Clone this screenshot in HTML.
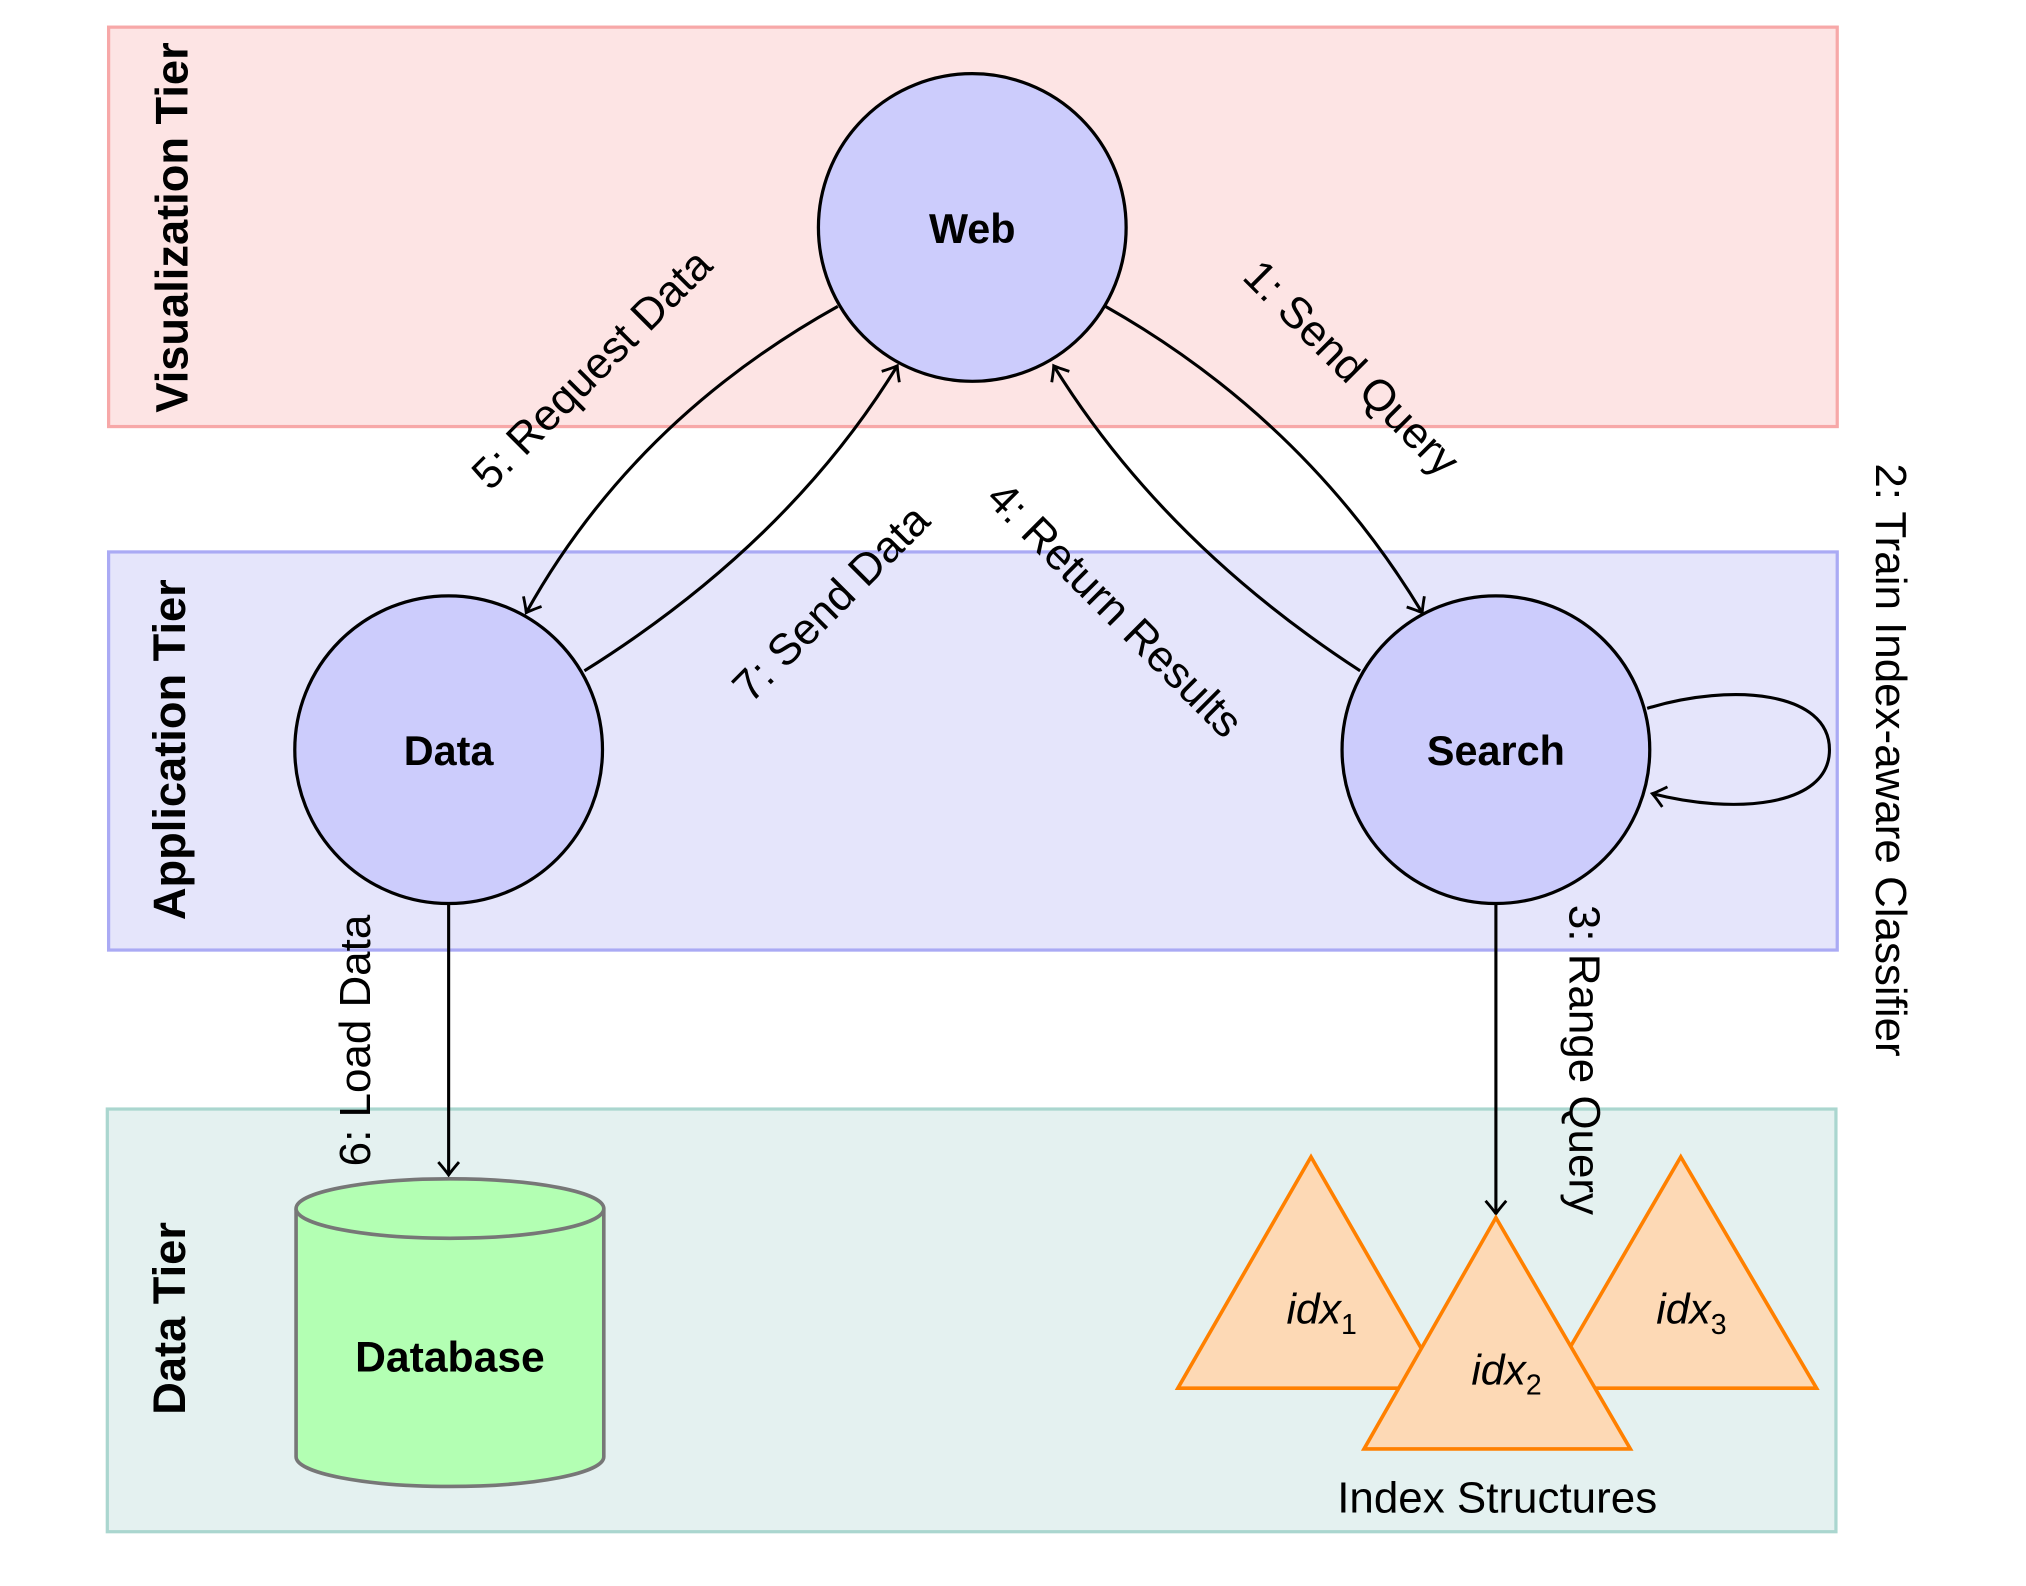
<!DOCTYPE html>
<html><head><meta charset="utf-8"><style>
html,body{margin:0;padding:0;background:#fff;}
svg{display:block;}
text{font-family:"Liberation Sans","DejaVu Sans",sans-serif;}
</style></head><body>
<svg width="2026" height="1586" viewBox="0 0 1567 1227" preserveAspectRatio="none" xmlns="http://www.w3.org/2000/svg">
<defs>
<marker id="ar" viewBox="-12 -10 14 20" markerWidth="14" markerHeight="20" refX="0" refY="0" orient="auto" markerUnits="userSpaceOnUse">
<path d="M-10,-8 Q-3,-2 0,0 Q-3,2 -10,8" fill="none" stroke="#000" stroke-width="2.2"/>
</marker>
</defs>
<rect x="84" y="21" width="1337" height="309" fill="#fde4e4" stroke="#f7a8a8" stroke-width="2.5"/>
<rect x="84" y="427" width="1337" height="308" fill="#e5e5fb" stroke="#aaaaf4" stroke-width="2.5"/>
<rect x="83" y="858" width="1337" height="327" fill="#e4f1f0" stroke="#aad6cf" stroke-width="2.5"/>

<g font-weight="bold" font-size="35" fill="#000">
<text transform="translate(145,176) rotate(-90)" text-anchor="middle">Visualization Tier</text>
<text transform="translate(143,580) rotate(-90)" text-anchor="middle">Application Tier</text>
<text transform="translate(143,1020) rotate(-90)" text-anchor="middle">Data Tier</text>
</g>

<g fill="none" stroke="#000" stroke-width="2.4">
<path d="M855,237 Q1010,325 1100,474" marker-end="url(#ar)"/>
<path d="M1052,519 Q900,420 815,283" marker-end="url(#ar)"/>
<path d="M648,237 Q490,325 407,474" marker-end="url(#ar)"/>
<path d="M452,519 Q610,420 694,283" marker-end="url(#ar)"/>
<path d="M347,699 L347,909" marker-end="url(#ar)"/>
<path d="M1157,699 L1157,939" marker-end="url(#ar)"/>
<path d="M1274,548 C1340,528 1415,535 1415,580 C1415,625 1340,630 1278,614" marker-end="url(#ar)"/>
</g>

<g fill="#ccccfc" stroke="#000" stroke-width="2.5">
<circle cx="752" cy="176" r="119"/>
<circle cx="347" cy="580" r="119"/>
<circle cx="1157" cy="580" r="119"/>
</g>
<g font-weight="bold" font-size="32" text-anchor="middle" fill="#000">
<text x="752" y="188">Web</text>
<text x="347" y="592">Data</text>
<text x="1157" y="592">Search</text>
</g>

<g stroke="#777" stroke-width="2.8" fill="#b3ffb3">
<path d="M229,935 L229,1127 A119,23 0 0 0 467,1127 L467,935"/>
<ellipse cx="348" cy="935" rx="119" ry="23"/>
</g>
<text x="348" y="1061" font-weight="bold" font-size="33" text-anchor="middle">Database</text>

<g fill="#fdd9b5" stroke="#ff8000" stroke-width="2.8">
<polygon points="1014,895 1117,1074 911,1074"/>
<polygon points="1300,895 1405,1074 1196,1074"/>
<polygon points="1157,942 1261,1121 1055,1121"/>
</g>
<g font-family="Liberation Serif,serif" font-style="italic" font-size="33" fill="#000">
<text x="995" y="1024">idx<tspan font-style="normal" font-size="22" dy="8">1</tspan></text>
<text x="1138" y="1071">idx<tspan font-style="normal" font-size="22" dy="8">2</tspan></text>
<text x="1281" y="1024">idx<tspan font-style="normal" font-size="22" dy="8">3</tspan></text>
</g>
<text x="1158" y="1170" font-size="34" text-anchor="middle">Index Structures</text>

<g font-size="34" fill="#000" text-anchor="middle">
<text transform="translate(1045,285) rotate(45)" dy="11">1: Send Query</text>
<text transform="translate(862,472) rotate(45)" dy="11">4: Return Results</text>
<text transform="translate(458,286) rotate(-45)" dy="11">5: Request Data</text>
<text transform="translate(643,467) rotate(-45)" dy="11">7: Send Data</text>
<text transform="translate(275,805) rotate(-90)" dy="11">6: Load Data</text>
<text transform="translate(1225,820) rotate(90)" dy="11">3: Range Query</text>
<text transform="translate(1462,588) rotate(90)" dy="11">2: Train Index-aware Classifier</text>
</g>
</svg>
</body></html>
